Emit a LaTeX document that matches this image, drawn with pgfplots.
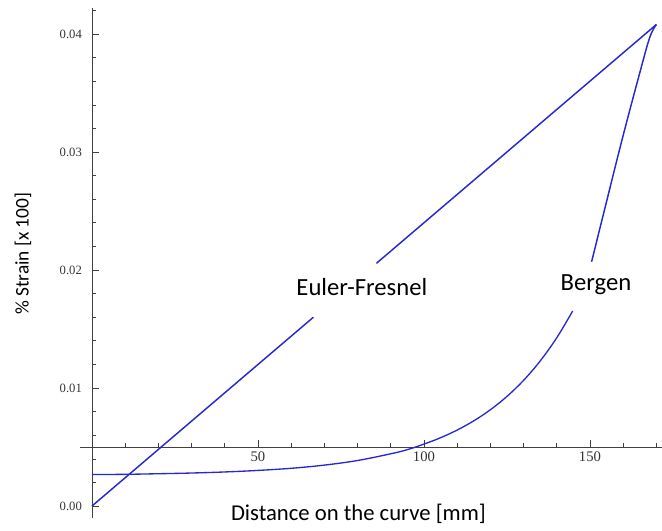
\documentclass[border=0pt]{standalone}
\usepackage{fontspec}
\setmainfont{Carlito}
\newfontfamily\tickfont{Liberation Serif}
\usepackage{pgfplots}
\pgfplotsset{compat=1.18}
\definecolor{mblue}{RGB}{40,40,210}
\begin{document}
\begin{tikzpicture}
\useasboundingbox (-60pt,-9.75pt) rectangle (436.5pt,388.5pt);
\begin{axis}[
  at={(0,0)}, anchor=south west,
  scale only axis, width=436.5pt, height=382.5pt,
  axis lines=middle,
  axis line style={-, black!75, line width=0.6pt},
  xmin=-3.6, xmax=171.7, ymin=-0.001, ymax=0.0422,
  y coord trafo/.code={\pgfmathparse{#1-0.005}},
  y coord inv trafo/.code={\pgfmathparse{#1+0.005}},
  scaled x ticks=false, scaled y ticks=false,
  xtick={50,100,150}, xticklabels={50,100,150},
  minor xtick={10,20,30,40,60,70,80,90,110,120,130,140,160,170},
  ytick={0,0.01,0.02,0.03,0.04}, yticklabels={0.00,0.01,0.02,0.03,0.04},
  minor ytick={0.002,0.004,0.006,0.008,0.012,0.014,0.016,0.018,0.022,0.024,0.026,0.028,0.032,0.034,0.036,0.038,0.042},
  tick align=inside,
  major tick length=5pt, minor tick length=3pt,
  tick style={black!75, line width=0.5pt},
  xticklabel style={font=\tickfont\fontsize{11}{11}\selectfont, text=black!80},
  yticklabel style={font=\tickfont\fontsize{9.5}{9.5}\selectfont, text=black!80, xshift=-4pt},
  xlabel={Distance on the curve [mm]},
  ylabel={\% Strain [x 100]},
  xlabel style={at={(rel axis cs:0.4785,0.0078)}, anchor=center, font=\fontsize{17}{17}\selectfont},
  ylabel style={at={(rel axis cs:-0.098,0.518)}, anchor=center, rotate=90, font=\fontsize{14.5}{14.5}\selectfont},
  clip=false,
]
% Euler-Fresnel
\addplot[mblue, line width=1.1pt] coordinates {(0,0) (66.7,0.0160)};
\addplot[mblue, line width=1.1pt] coordinates {(85.7,0.02057) (170,0.0408)};
% Bergen
\addplot[mblue, line width=1pt, smooth, tension=0.6] coordinates {
(0,0.00267) (10,0.00269) (20,0.00274) (30,0.00280) (40,0.00289) (50,0.00302)
(60,0.00320) (70,0.00347) (80,0.00386) (90,0.00443) (95,0.00478) (100,0.00525)
(105,0.00579) (110,0.00644) (115,0.00722) (120,0.00816) (125,0.00929) (130,0.01065)
(135,0.01229) (140,0.01426) (144.8,0.01653)};
\addplot[mblue, line width=1.1pt, smooth, tension=0.6] coordinates {
(150.5,0.0207) (155,0.0258) (160,0.0314) (165,0.0367) (168,0.0397) (170,0.0408)};
\node[font=\fontsize{18.5}{18.5}\selectfont] at (axis cs:81.3,0.01856) {Euler-Fresnel};
\node[font=\fontsize{18.5}{18.5}\selectfont] at (axis cs:151.8,0.01873) {Bergen};
\end{axis}
\end{tikzpicture}
\end{document}
